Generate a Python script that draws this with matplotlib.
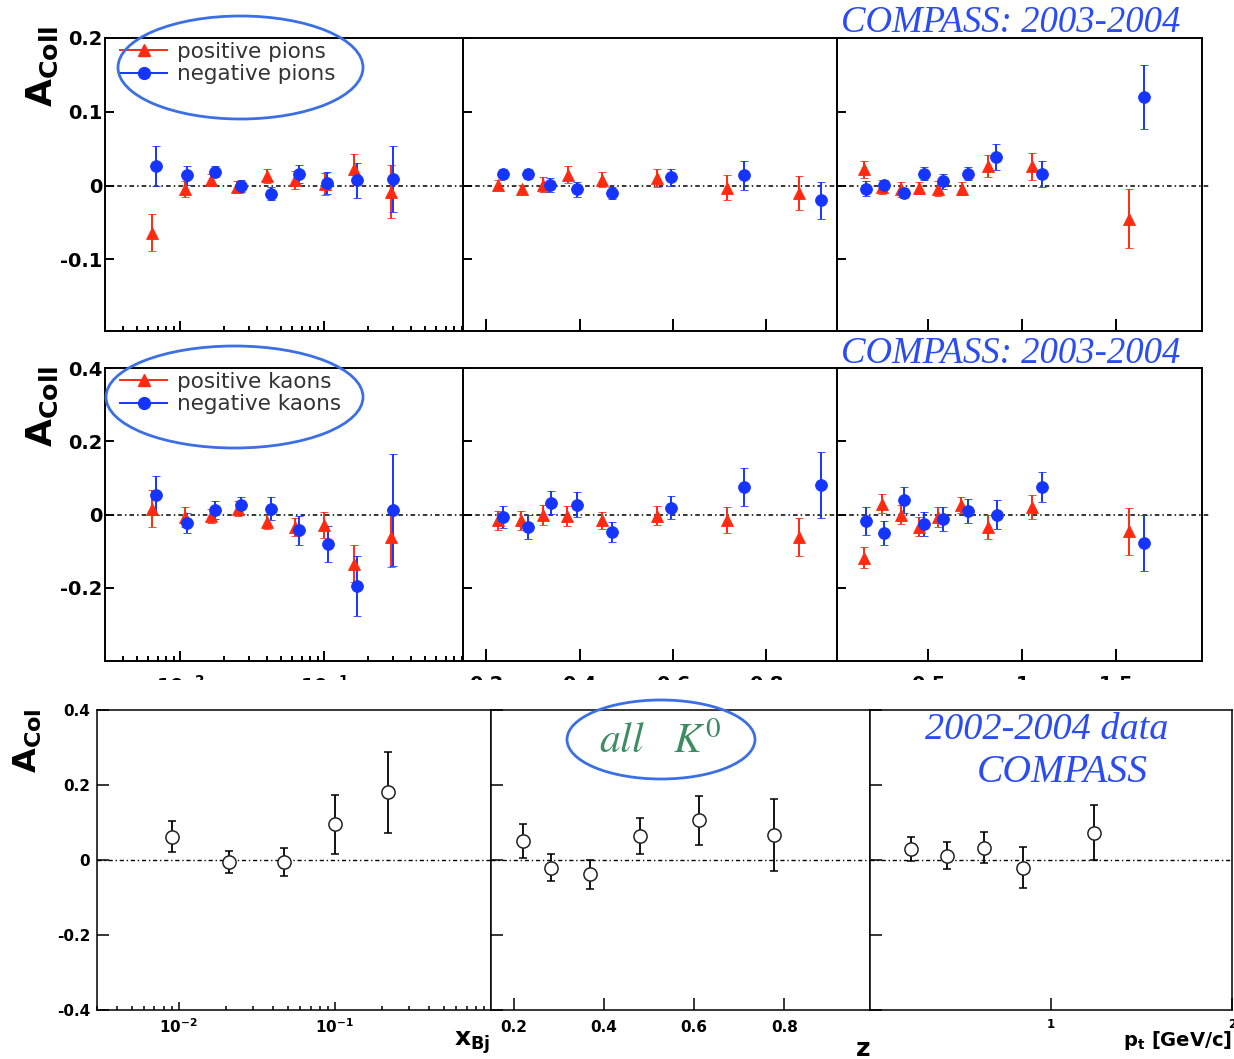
import numpy as np
import matplotlib
matplotlib.use('Agg')
import matplotlib.pyplot as plt
from matplotlib.patches import Ellipse
from matplotlib.ticker import LogLocator, NullFormatter

plt.rcParams['axes.unicode_minus'] = False

# ========================= DATA =========================
# charged pions vs x_Bj
pip_x = [0.0064, 0.0107, 0.0164, 0.0249, 0.0402, 0.063, 0.1016, 0.161, 0.292]
pip_ax = [-0.064, -0.005, 0.008, -0.002, 0.013, 0.008, 0.002, 0.022, -0.008]
pip_ex = [0.025, 0.011, 0.008, 0.008, 0.010, 0.012, 0.015, 0.021, 0.036]
pim_x = [0.0068, 0.0112, 0.0175, 0.0265, 0.0428, 0.067, 0.105, 0.169, 0.301]
pim_ax = [0.027, 0.014, 0.019, -0.001, -0.011, 0.016, 0.003, 0.007, 0.009]
pim_ex = [0.027, 0.013, 0.008, 0.008, 0.009, 0.012, 0.015, 0.024, 0.045]
# charged pions vs z
pip_z = [0.226, 0.277, 0.322, 0.376, 0.449, 0.567, 0.717, 0.871]
pip_az = [0.001, -0.005, 0.001, 0.015, 0.008, 0.010, -0.003, -0.010]
pip_ez = [0.007, 0.006, 0.010, 0.012, 0.010, 0.012, 0.017, 0.023]
pim_z = [0.236, 0.290, 0.337, 0.395, 0.470, 0.597, 0.753, 0.918]
pim_az = [0.016, 0.016, 0.001, -0.005, -0.010, 0.011, 0.014, -0.020]
pim_ez = [0.006, 0.007, 0.009, 0.010, 0.008, 0.011, 0.020, 0.025]
# charged pions vs pt
pip_pt = [0.16, 0.255, 0.356, 0.452, 0.553, 0.681, 0.819, 1.053, 1.569]
pip_apt = [0.022, -0.002, -0.005, -0.003, -0.004, -0.004, 0.026, 0.026, -0.045]
pip_ept = [0.012, 0.009, 0.010, 0.008, 0.010, 0.009, 0.015, 0.018, 0.040]
pim_pt = [0.17, 0.266, 0.372, 0.479, 0.58, 0.713, 0.862, 1.106, 1.649]
pim_apt = [-0.004, 0.001, -0.010, 0.016, 0.006, 0.016, 0.039, 0.016, 0.120]
pim_ept = [0.010, 0.007, 0.007, 0.009, 0.010, 0.009, 0.018, 0.018, 0.043]

# charged kaons vs x_Bj
kp_x = [0.0064, 0.0107, 0.0164, 0.0253, 0.0402, 0.063, 0.100, 0.161, 0.292]
kp_ax = [0.016, -0.006, -0.004, 0.016, -0.020, -0.034, -0.029, -0.134, -0.062]
kp_ex = [0.050, 0.027, 0.020, 0.020, 0.020, 0.025, 0.035, 0.050, 0.080]
km_x = [0.0068, 0.0112, 0.0175, 0.0265, 0.0428, 0.067, 0.107, 0.169, 0.301]
km_ax = [0.053, -0.023, 0.012, 0.025, 0.016, -0.043, -0.081, -0.194, 0.012]
km_ex = [0.053, 0.027, 0.025, 0.024, 0.032, 0.040, 0.050, 0.082, 0.153]
# charged kaons vs z
kp_z = [0.226, 0.275, 0.322, 0.374, 0.449, 0.567, 0.717, 0.871]
kp_az = [-0.016, -0.016, -0.002, -0.004, -0.016, -0.004, -0.015, -0.061]
kp_ez = [0.026, 0.026, 0.028, 0.028, 0.024, 0.026, 0.036, 0.052]
km_z = [0.236, 0.290, 0.339, 0.395, 0.470, 0.597, 0.753, 0.918]
km_az = [-0.006, -0.034, 0.032, 0.027, -0.048, 0.019, 0.074, 0.080]
km_ez = [0.030, 0.032, 0.031, 0.035, 0.027, 0.032, 0.052, 0.090]
# charged kaons vs pt
kp_pt = [0.16, 0.255, 0.356, 0.452, 0.553, 0.676, 0.819, 1.053, 1.569]
kp_apt = [-0.118, 0.030, 0.000, -0.034, -0.007, 0.025, -0.034, 0.021, -0.046]
kp_ept = [0.029, 0.026, 0.026, 0.026, 0.027, 0.022, 0.033, 0.032, 0.064]
km_pt = [0.17, 0.266, 0.372, 0.479, 0.58, 0.713, 0.867, 1.106, 1.649]
km_apt = [-0.017, -0.050, 0.039, -0.026, -0.013, 0.009, 0.000, 0.075, -0.077]
km_ept = [0.038, 0.033, 0.035, 0.033, 0.033, 0.033, 0.040, 0.040, 0.077]

# neutral kaons (2002-2004)
k0_x = [0.0091, 0.021, 0.0472, 0.100, 0.219]
k0_ax = [0.062, -0.005, -0.005, 0.095, 0.181]
k0_ex = [0.041, 0.029, 0.037, 0.079, 0.108]
k0_z = [0.222, 0.283, 0.370, 0.480, 0.610, 0.777]
k0_az = [0.050, -0.020, -0.038, 0.063, 0.106, 0.067]
k0_ez = [0.045, 0.036, 0.038, 0.048, 0.066, 0.096]
k0_pt = [0.226, 0.428, 0.629, 0.844, 1.239]
k0_apt = [0.030, 0.011, 0.033, -0.020, 0.073]
k0_ept = [0.032, 0.036, 0.041, 0.055, 0.073]

# ========================= STYLE =========================
RED = '#ff2a10'
BLUE = '#1535ff'
RING = '#3b6fe3'
TITLE_BLUE = '#2b4cf0'
GREEN = '#3d8c62'
W, H = 1234, 1059

fig = plt.figure(figsize=(W / 100, H / 100), dpi=100)


def rect(x0, x1, y0, y1):
    return [x0 / W, 1 - y1 / H, (x1 - x0) / W, (y1 - y0) / H]


def style(ax, lw, ylen):
    for s in ax.spines.values():
        s.set_linewidth(lw)
    ax.tick_params(which='both', direction='in', top=False, right=False, width=lw)
    ax.tick_params(axis='y', length=ylen)


def zero_line(ax, lw, ext=1.0):
    ax.axhline(0, xmin=0, xmax=ext, color='k', lw=lw, ls=(0, (3, 2, 1, 2)),
               clip_on=False, zorder=1)


def set_logx(ax, size, pad, major_len, label=True):
    ax.set_xscale('log')
    ax.xaxis.set_minor_locator(LogLocator(subs=np.arange(2, 10)))
    ax.xaxis.set_minor_formatter(NullFormatter())
    ax.set_xticks([0.01, 0.1], [r'$\mathbf{10^{-2}}$', r'$\mathbf{10^{-1}}$'])
    ax.tick_params(axis='x', which='major', length=major_len, labelsize=size,
                   pad=pad, labelbottom=label)
    ax.tick_params(axis='x', which='minor', length=major_len * 0.5)


# ========================= TOP TWO ROWS (charged) =========================
rows = [
    dict(top=38, bot=331, ylim=(-0.197, 0.2), yt=[-0.1, 0, 0.1, 0.2],
         ytl=['-0.1', '0', '0.1', '0.2'], names=('positive pions', 'negative pions'),
         data=[(pip_x, pip_ax, pip_ex, pim_x, pim_ax, pim_ex),
               (pip_z, pip_az, pip_ez, pim_z, pim_az, pim_ez),
               (pip_pt, pip_apt, pip_ept, pim_pt, pim_apt, pim_ept)],
         labels=False, leg_top=42),
    dict(top=368, bot=661, ylim=(-0.4, 0.4), yt=[-0.2, 0, 0.2, 0.4],
         ytl=['-0.2', '0', '0.2', '0.4'], names=('positive kaons', 'negative kaons'),
         data=[(kp_x, kp_ax, kp_ex, km_x, km_ax, km_ex),
               (kp_z, kp_az, kp_ez, km_z, km_az, km_ez),
               (kp_pt, kp_apt, kp_ept, km_pt, km_apt, km_ept)],
         labels=True, leg_top=372),
]
xcols = [(105, 463), (463, 837), (837, 1202)]
xlims = [(0.003, 0.92), (0.15, 0.952), (0.015, 1.955)]
zticks = [0.2, 0.4, 0.6, 0.8]
ztl = ['0.2', '0.4', '0.6', '0.8']
ptticks = [0.5, 1, 1.5]
pttl = ['0.5', '1', '1.5']

for row in rows:
    for i, (x0, x1) in enumerate(xcols):
        ax = fig.add_axes(rect(x0, x1, row['top'], row['bot']))
        style(ax, 1.4, 6.5)
        xp, ap, ep, xm, am, em = row['data'][i]
        zero_line(ax, 1.1, 1.022 if i == 2 else 1.0)
        ax.errorbar(xp, ap, yerr=ep, fmt='^', color=RED, ms=8.5, mew=0.6,
                    elinewidth=1.4, capsize=2.8, capthick=1.4, zorder=3)
        ax.errorbar(xm, am, yerr=em, fmt='o', color=BLUE, ms=8.5, mew=0.6,
                    elinewidth=1.4, capsize=2.8, capthick=1.4, zorder=3)
        ax.set_ylim(row['ylim'])
        ax.set_xlim(xlims[i])
        ax.set_yticks(row['yt'], row['ytl'])
        ax.tick_params(axis='y', labelsize=14, pad=2, labelleft=(i == 0))
        if i == 0:
            set_logx(ax, 14, 10, 7.5, row['labels'])
        elif i == 1:
            ax.set_xticks(zticks, ztl)
        else:
            ax.set_xticks(ptticks, pttl)
        if i > 0:
            ax.tick_params(axis='x', length=9, labelsize=14, pad=10,
                           labelbottom=row['labels'])
        for t in ax.get_xticklabels() + ax.get_yticklabels():
            t.set_fontweight('bold')
        if i == 0:
            ax.plot([], [], color=RED, marker='^', ms=8.5, lw=1.4, label=row['names'][0])
            ax.plot([], [], color=BLUE, marker='o', ms=8.5, lw=1.4, label=row['names'][1])
            leg = ax.legend(loc='upper left', bbox_to_anchor=(120 / W, 1 - row['leg_top'] / H),
                            bbox_transform=fig.transFigure, frameon=False, fontsize=15.5,
                            handlelength=2.2, handletextpad=0.45, labelspacing=0.1,
                            borderpad=0, borderaxespad=0)
            for t in leg.get_texts():
                t.set_color('#333333')

# white strip hiding the lower part of the kaon tick labels
cover = fig.add_axes(rect(0, W, 680, H), zorder=1)
cover.set_facecolor('white')
cover.set_axis_off()
cover.add_artist(cover.patch)
cover.patch.set_visible(True)

# ========================= BOTTOM ROW (neutral kaons) =========================
bcols = [(97, 491), (491, 870), (870, 1232)]
blims = [(0.003, 1.0), (0.15, 0.99), (0.0, 2.0)]
bdata = [(k0_x, k0_ax, k0_ex), (k0_z, k0_az, k0_ez), (k0_pt, k0_apt, k0_ept)]
for i, (x0, x1) in enumerate(bcols):
    ax = fig.add_axes(rect(x0, x1, 710, 1010), zorder=2)
    style(ax, 1.1, 8.5)
    zero_line(ax, 1.0)
    x, a, e = bdata[i]
    ax.errorbar(x, a, yerr=e, fmt='o', color='k', mfc='white', mec='#222222',
                ms=9.5, mew=1.1, elinewidth=1.3, capsize=3, capthick=1.3, zorder=3)
    ax.set_ylim(-0.4, 0.4)
    ax.set_xlim(blims[i])
    ax.set_yticks([-0.4, -0.2, 0, 0.2, 0.4], ['-0.4', '-0.2', '0', '0.2', '0.4'])
    ax.tick_params(axis='y', labelsize=11, pad=5, labelleft=(i == 0))
    if i == 0:
        set_logx(ax, 11, 5, 6)
    elif i == 1:
        ax.set_xticks(zticks, ztl)
        ax.tick_params(axis='x', length=8.5, labelsize=11, pad=7)
    else:
        ax.set_xticks([1, 2], ['1', '2'])
        ax.tick_params(axis='x', length=8.5, labelsize=8.5, pad=6)
    for t in ax.get_xticklabels() + ax.get_yticklabels():
        t.set_fontweight('bold')

# ========================= TEXTS =========================
ylab = r'$\mathbf{A}_{\mathbf{Coll}}$'
fig.text(42 / W, 1 - 66 / H, ylab, rotation=90, fontsize=26, ha='center', va='center')
fig.text(42 / W, 1 - 406 / H, ylab, rotation=90, fontsize=26, ha='center', va='center')
fig.text(28 / W, 1 - 741 / H, r'$\mathbf{A}_{\mathbf{Col}}$', rotation=90, fontsize=23,
         ha='center', va='center', zorder=4)

for yc in (23, 354):
    fig.text(1011 / W, 1 - yc / H, 'COMPASS: 2003-2004', fontsize=26.5, style='italic',
             family='Liberation Serif', color=TITLE_BLUE, ha='center', va='center')

fig.text(1047 / W, 1 - 730 / H, '2002-2004 data', fontsize=27.5, style='italic',
         family='Liberation Serif', color=TITLE_BLUE, ha='center', va='center', zorder=4)
fig.text(1062 / W, 1 - 773 / H, 'COMPASS', fontsize=28.5, style='italic',
         family='Liberation Serif', color=TITLE_BLUE, ha='center', va='center', zorder=4)
fig.text(660 / W, 1 - 741 / H, r'$all\ \ \ K^{0}$', math_fontfamily='stix', fontsize=30,
         color=GREEN, ha='center', va='center', zorder=4)

fig.text(490 / W, 1 - 1043 / H, r'$\mathbf{x}_{\mathbf{Bj}}$', fontsize=18,
         ha='right', va='center', zorder=4)
fig.text(870 / W, 1 - 1049 / H, r'$\mathbf{z}$', fontsize=18, ha='right', va='center', zorder=4)
fig.text(1232 / W, 1 - 1041 / H, r'$\mathbf{p}_{\mathbf{t}}$ [GeV/c]', fontsize=14,
         fontweight='bold', ha='right', va='center', zorder=4)

# hand-drawn style rings
for cx, cy, w, h in [(240.5, 67.5, 245, 103), (234.5, 397, 257, 102), (661, 739.5, 188, 79)]:
    fig.add_artist(Ellipse((cx / W, 1 - cy / H), w / W, h / H, transform=fig.transFigure,
                           fill=False, ec=RING, lw=2.0, zorder=6))

fig.savefig('out.png', dpi=100)
